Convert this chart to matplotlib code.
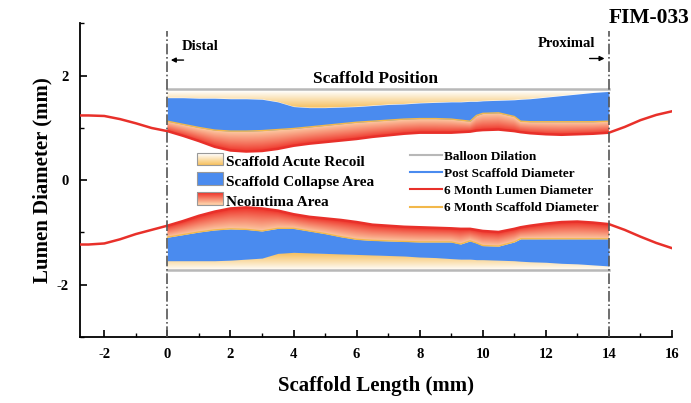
import numpy as np
import matplotlib
matplotlib.use("Agg")
import matplotlib.pyplot as plt
from matplotlib.colors import to_rgb
from matplotlib.patches import Rectangle
from matplotlib.lines import Line2D
from matplotlib.legend_handler import HandlerBase

plt.rcParams['font.family'] = ['Liberation Serif', 'DejaVu Serif']
plt.rcParams['font.weight'] = 'bold'
plt.rcParams['axes.unicode_minus'] = False

# ---------------- data ----------------
x_in = [0, 0.5, 1, 1.5, 2, 2.5, 3, 3.5, 4, 4.5, 5, 5.5, 6, 6.5, 7, 7.5, 8, 8.5, 9,
        9.3, 9.6, 9.8, 10, 10.5, 11, 11.2, 11.5, 12, 12.5, 13, 13.5, 14]

lumen_top_in = [0.94, 0.85, 0.75, 0.64, 0.57, 0.55, 0.56, 0.60, 0.66, 0.70, 0.73, 0.76, 0.79, 0.83,
                0.86, 0.89, 0.91, 0.91, 0.91, 0.92, 0.93, 0.95, 0.96, 0.97, 0.94, 0.92, 0.90, 0.88,
                0.87, 0.88, 0.89, 0.91]
lumen_bot_in = [-0.87, -0.78, -0.68, -0.60, -0.54, -0.52, -0.54, -0.58, -0.65, -0.70, -0.73, -0.76,
                -0.80, -0.85, -0.87, -0.89, -0.90, -0.91, -0.92, -0.93, -0.93, -0.95, -0.97, -0.99,
                -0.93, -0.90, -0.87, -0.83, -0.80, -0.79, -0.81, -0.84]

scaf6_top = [1.13, 1.07, 1.01, 0.96, 0.94, 0.94, 0.95, 0.97, 0.99, 1.02, 1.05, 1.08, 1.11, 1.13,
             1.15, 1.17, 1.18, 1.18, 1.17, 1.15, 1.13, 1.24, 1.28, 1.29, 1.22, 1.13, 1.12, 1.12,
             1.12, 1.12, 1.12, 1.13]
scaf6_bot = [-1.09, -1.04, -0.99, -0.95, -0.93, -0.94, -0.97, -0.92, -0.92, -0.97, -1.02, -1.08,
             -1.13, -1.15, -1.16, -1.17, -1.18, -1.18, -1.18, -1.22, -1.16, -1.20, -1.25, -1.26,
             -1.18, -1.12, -1.12, -1.12, -1.12, -1.12, -1.12, -1.12]

post_top = [1.58, 1.58, 1.57, 1.57, 1.56, 1.56, 1.55, 1.50, 1.41, 1.39, 1.39, 1.40, 1.41, 1.43,
            1.45, 1.46, 1.48, 1.49, 1.50, 1.50, 1.51, 1.51, 1.52, 1.53, 1.54, 1.55, 1.56, 1.59,
            1.62, 1.65, 1.68, 1.70]
post_bot = [-1.54, -1.54, -1.54, -1.54, -1.53, -1.51, -1.49, -1.40, -1.38, -1.39, -1.40, -1.41,
            -1.42, -1.43, -1.44, -1.45, -1.47, -1.48, -1.50, -1.51, -1.51, -1.52, -1.52, -1.53,
            -1.54, -1.55, -1.56, -1.57, -1.59, -1.60, -1.62, -1.64]

balloon_x = [0, 14]
balloon_top = [1.75, 1.75]
balloon_bot = [-1.72, -1.72]

x_left = [-2.77, -2.5, -2, -1.5, -1, -0.5]
lumen_top_left = [1.24, 1.24, 1.23, 1.17, 1.09, 1.00]
lumen_bot_left = [-1.23, -1.23, -1.21, -1.13, -1.03, -0.95]
x_right = [14.5, 15, 15.5, 16]
lumen_top_right = [1.02, 1.15, 1.25, 1.32]
lumen_bot_right = [-0.95, -1.08, -1.20, -1.30]

x_ticks = [-2, 0, 2, 4, 6, 8, 10, 12, 14, 16]
y_ticks = [-2, 0, 2]

# ---------------- colors ----------------
c_blue = '#4a8bef'
c_red = '#e8302a'
c_orange = '#f2b84b'
c_gray = '#b8b8b8'
red_lo, red_hi = '#ee2f26', '#fcc9a2'
yel_lo, yel_hi = '#f6c264', '#ffffff'

fig = plt.figure(figsize=(6.91, 4.03), dpi=100)
ax = fig.add_axes([0.1158, 0.1638, 0.8567, 0.7779])
ax.set_xlim(-2.77, 16)
ax.set_ylim(-3, 3)

xi = np.array(x_in)


def gradient_fill(xs, y_near, y_far, c_near, c_far, absolute=None, gamma=1.0):
    y_near = np.asarray(y_near); y_far = np.asarray(y_far)
    poly = ax.fill_between(xs, y_near, y_far, facecolor='none', edgecolor='none')
    gx = np.linspace(xs[0], xs[-1], 700)
    gy = np.linspace(-2, 2, 1200)
    X, Y = np.meshgrid(gx, gy)
    if absolute is None:
        yn = np.interp(gx, xs, y_near)[None, :]
        yf = np.interp(gx, xs, y_far)[None, :]
        t = np.clip((Y - yn) / (yf - yn), 0, 1)
    else:
        lo, hi = absolute
        t = np.clip((np.abs(Y) - lo) / (hi - lo), 0, 1)
    t = t ** gamma
    a = np.array(to_rgb(c_near)); b = np.array(to_rgb(c_far))
    img = a[None, None, :] * (1 - t[..., None]) + b[None, None, :] * t[..., None]
    im = ax.imshow(img, extent=[gx[0], gx[-1], gy[0], gy[-1]], origin='lower',
                   aspect='auto', interpolation='bilinear', zorder=1)
    im.set_clip_path(poly.get_paths()[0], transform=ax.transData)
    return im


bt = np.interp(xi, balloon_x, balloon_top)
bb = np.interp(xi, balloon_x, balloon_bot)

# acute recoil (post scaffold -> balloon)
gradient_fill(xi, post_top, bt, yel_lo, yel_hi, absolute=(1.40, 1.72))
gradient_fill(xi, post_bot, bb, yel_lo, yel_hi, absolute=(1.40, 1.72))
# collapse area
ax.fill_between(xi, scaf6_top, post_top, color=c_blue, lw=0, zorder=2)
ax.fill_between(xi, scaf6_bot, post_bot, color=c_blue, lw=0, zorder=2)
# neointima
gradient_fill(xi, lumen_top_in, scaf6_top, red_lo, red_hi, gamma=0.9)
gradient_fill(xi, lumen_bot_in, scaf6_bot, red_lo, red_hi, gamma=0.9)

# lines
ax.plot(balloon_x, balloon_top, color=c_gray, lw=1.8, zorder=3)
ax.plot(balloon_x, balloon_bot, color=c_gray, lw=1.8, zorder=3)
ax.plot(xi, scaf6_top, color=c_orange, lw=1.0, zorder=3)
ax.plot(xi, scaf6_bot, color=c_orange, lw=1.0, zorder=3)
xf = x_left + x_in + x_right
ax.plot(xf, lumen_top_left + lumen_top_in + lumen_top_right, color=c_red, lw=1.8, zorder=4)
ax.plot(xf, lumen_bot_left + lumen_bot_in + lumen_bot_right, color=c_red, lw=1.8, zorder=4)

# vertical scaffold markers
for xv in (0, 14):
    ax.plot([xv, xv], [-3, 2.85], color='#555555', lw=1.2, ls='-.', zorder=5)

ax.text(0.45, 2.56, 'Distal', fontsize=10.5, fontweight='bold', ha='left', va='center')
ax.annotate('', xy=(0.02, 2.30), xytext=(0.6, 2.30),
            arrowprops=dict(arrowstyle='-|>', color='black', lw=1, mutation_scale=7))
ax.text(13.56, 2.62, 'Proximal', fontsize=10.5, fontweight='bold', ha='right', va='center')
ax.annotate('', xy=(13.95, 2.33), xytext=(13.3, 2.33),
            arrowprops=dict(arrowstyle='-|>', color='black', lw=1, mutation_scale=7))
ax.text(6.6, 1.94, 'Scaffold Position', fontsize=12.5, fontweight='bold', ha='center', va='center')

# axes styling
for s in ('top', 'right'):
    ax.spines[s].set_visible(False)
for s in ('left', 'bottom'):
    ax.spines[s].set_linewidth(1.3)
ax.set_xticks(x_ticks)
ax.set_xticks(np.arange(-2, 16.5, 1), minor=True)
ax.set_yticks(y_ticks)
ax.set_yticks([-3, -1, 1, 3], minor=True)
ax.tick_params(which='major', direction='in', length=5, width=1.2, labelsize=10.5, pad=8)
ax.tick_params(which='minor', direction='in', length=3, width=1.0)
for lab in ax.get_xticklabels() + ax.get_yticklabels():
    lab.set_fontweight('bold')
ax.set_xlabel('Scaffold Length (mm)', fontsize=15, fontweight='bold', labelpad=11)
ax.set_ylabel('Lumen Diameter (mm)', fontsize=15, fontweight='bold', labelpad=3)

fig.text(0.998, 0.955, 'FIM-033', fontsize=15.5, fontweight='bold', ha='right', va='center')


class GradPatch:
    def __init__(self, c1, c2):
        self.c1, self.c2 = c1, c2


class HandlerGrad(HandlerBase):
    def create_artists(self, legend, orig, xd, yd, w, h, fontsize, trans):
        n = 12
        a = np.array(to_rgb(orig.c1)); b = np.array(to_rgb(orig.c2))
        arts = []
        for k in range(n):
            t = k / (n - 1)
            c = a * (1 - t) + b * t
            r = Rectangle((xd, yd + h - (k + 1) * h / n), w, h / n + 0.2, facecolor=c,
                          edgecolor='none', transform=trans)
            arts.append(r)
        arts.append(Rectangle((xd, yd), w, h, facecolor='none', edgecolor='#999999', lw=0.8,
                              transform=trans))
        return arts


h1 = [GradPatch('#ffffff', yel_lo), GradPatch(c_blue, c_blue), GradPatch(red_lo, red_hi)]
l1 = ['Scaffold Acute Recoil', 'Scaffold Collapse Area', 'Neointima Area']
leg1 = ax.legend(h1, l1, handler_map={GradPatch: HandlerGrad()}, loc='upper left',
                 bbox_to_anchor=(0.18, 0.615), frameon=False,
                 handlelength=1.7, handleheight=0.9, handletextpad=0.2, labelspacing=0.33,
                 borderpad=0.2, prop={'weight': 'bold', 'size': 11})
ax.add_artist(leg1)

h2 = [Line2D([], [], color=c_gray, lw=1.5), Line2D([], [], color=c_blue, lw=1.5),
      Line2D([], [], color=c_red, lw=1.5), Line2D([], [], color=c_orange, lw=1.5)]
l2 = ['Balloon Dilation', 'Post Scaffold Diameter', '6 Month Lumen Diameter',
      '6 Month Scaffold Diameter']
ax.legend(h2, l2, loc='upper left', bbox_to_anchor=(0.542, 0.625), frameon=False,
          handlelength=2.4, handletextpad=0.2, labelspacing=0.38, borderpad=0.2,
          prop={'weight': 'bold', 'size': 9.5})

fig.savefig('out.png', dpi=100)
